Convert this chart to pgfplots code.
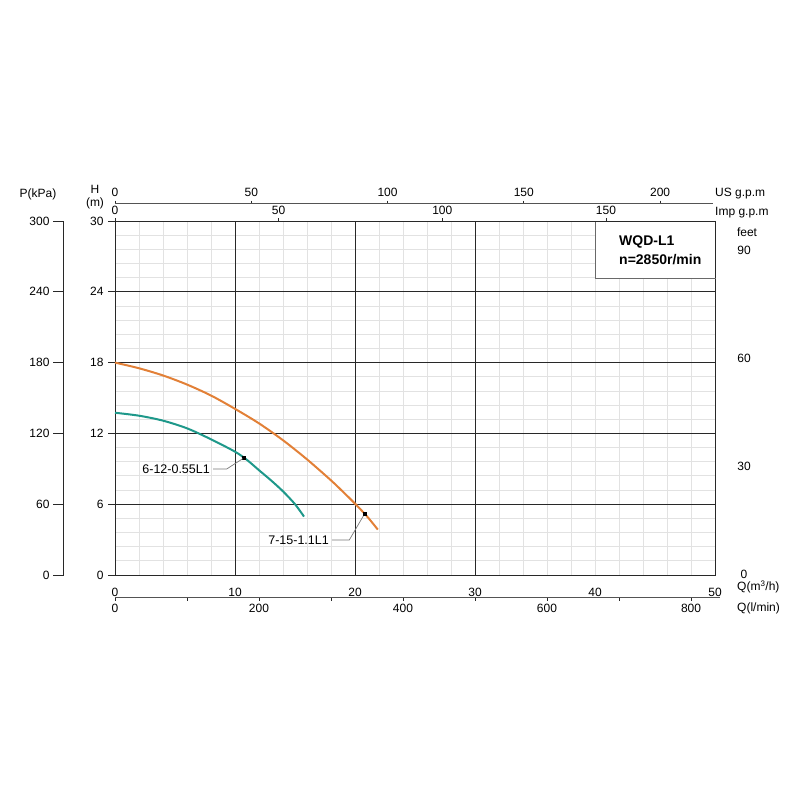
\documentclass[border=0pt]{standalone}
\usepackage{fontspec}
\setmainfont{Liberation Sans}
\usepackage{pgfplots}
\pgfplotsset{compat=1.18}
\definecolor{curveor}{RGB}{226,128,55}
\definecolor{curvete}{RGB}{30,152,138}
\definecolor{gridmaj}{RGB}{40,40,40}
\definecolor{gridmin}{RGB}{226,226,226}
\definecolor{leader}{RGB}{120,120,120}
\pgfplotsset{
  every axis/.append style={
    scale only axis,
    font=\fontsize{12}{14}\selectfont,
    /pgf/number format/assume math mode=true,
    /pgf/number format/1000 sep={},
    tick label style={font=\fontsize{12}{14}\selectfont},
  },
}
\begin{document}
\begin{tikzpicture}[x=1pt,y=1pt]
\useasboundingbox (0,0) rectangle (800,800);

% ---------- minor grid (drawn first) ----------
\begin{axis}[
  at={(115pt,225pt)}, anchor=south west,
  width=600pt, height=354pt,
  xmin=0, xmax=50, ymin=0, ymax=30,
  xtick={2,4,6,8,12,14,16,18,22,24,26,28,32,34,36,38,40,42,44,46,48},
  ytick={1.2,2.4,3.6,4.8,7.2,8.4,9.6,10.8,13.2,14.4,15.6,16.8,19.2,20.4,21.6,22.8,25.2,26.4,27.6,28.8},
  xticklabels={}, yticklabels={},
  grid=major,
  major grid style={gridmin, line width=0.8pt},
  major tick length=0pt,
  axis line style={draw=none},
]
\end{axis}

% ---------- main axis ----------
\begin{axis}[
  at={(115pt,225pt)}, anchor=south west,
  width=600pt, height=354pt,
  xmin=0, xmax=50, ymin=0, ymax=30,
  xtick={0,10,20,30}, extra x ticks={40,50},
  extra x tick style={grid=none},
  ytick={0,6,12,18,24,30},
  grid=major,
  major grid style={gridmaj, line width=0.8pt},
  axis line style={gridmaj, line width=0.8pt},
  xtick pos=bottom, ytick pos=left,
  tick align=outside,
  x tick style={draw=none},
  y tick style={gridmaj, line width=0.8pt},
  major tick length=7pt,
  xticklabel style={yshift=-3pt},
  yticklabel style={xshift=-1pt},
  clip=false,
]
\addplot[curvete, line width=2pt, smooth, tension=0.5] coordinates {
(0,13.75) (2,13.5) (4,13.08) (6,12.43) (8,11.5) (10,10.45) (11,9.75) (12,8.88) (13,8.02) (14,7.09) (15,6.0) (15.75,4.95)
};
\addplot[curveor, line width=2pt, smooth, tension=0.5] coordinates {
(0,18.0) (2,17.52) (4,16.91) (6,16.14) (8,15.21) (10,14.08) (12,12.85) (14,11.42) (16,9.8) (18,8.02) (19,7.05) (20,6.05) (21,4.97) (21.9,3.85)
};
\addplot[only marks, mark=square*, mark size=1.5pt, black] coordinates {(10.75,9.94) (20.83,5.16)};
\end{axis}

% ---------- P(kPa) axis ----------
\begin{axis}[
  at={(63.5pt,225pt)}, anchor=south west,
  width=1pt, height=354pt,
  xmin=0, xmax=1, ymin=0, ymax=300,
  ytick={0,60,120,180,240,300},
  axis y line*=left, hide x axis,
  axis line style={gridmaj, line width=0.8pt},
  tick align=outside, major tick length=10.5pt,
  y tick style={gridmaj, line width=0.8pt},
]
\end{axis}

% ---------- l/min axis ----------
\begin{axis}[
  at={(115pt,202.3pt)}, anchor=south west,
  width=605pt, height=1pt,
  xmin=0, xmax=840.28, ymin=0, ymax=1,
  xtick={0,100,...,800},
  xticklabels={0,,200,,400,,600,,800},
  axis x line*=bottom, hide y axis,
  axis line style={gridmaj!80, line width=0.8pt},
  tick align=outside, major tick length=3pt,
  x tick style={gridmaj, line width=0.8pt},
]
\end{axis}

% ---------- US gpm axis ----------
\begin{axis}[
  at={(115pt,595.7pt)}, anchor=south west,
  width=598.3pt, height=1pt,
  xmin=0, xmax=219.52, ymin=0, ymax=1,
  xtick={0,50,100,150,200},
  axis x line*=top, hide y axis,
  axis line style={gridmaj!80, line width=0.8pt},
  tick align=outside, major tick length=2.7pt,
  x tick style={gridmaj, line width=0.8pt},
]
\end{axis}

% ---------- Imp gpm axis ----------
\begin{axis}[
  at={(115pt,225pt)}, anchor=south west,
  width=600pt, height=354pt,
  xmin=0, xmax=183.31, ymin=0, ymax=1,
  xtick={0,50,100,150},
  axis x line*=top, hide y axis,
  axis line style={gridmaj, line width=0.8pt},
  tick align=outside, major tick length=2.5pt,
  x tick style={gridmaj, line width=0.8pt},
]
\end{axis}

% ---------- feet axis ----------
\begin{axis}[
  at={(115pt,225pt)}, anchor=south west,
  width=600pt, height=354pt,
  xmin=0, xmax=1, ymin=0, ymax=98.425,
  ytick={0,30,60,90},
  axis y line*=right, hide x axis,
  axis line style={draw=none},
  major tick length=0pt,
  yticklabel style={anchor=center, xshift=29pt, yshift=1pt},
]
\end{axis}

% ---------- texts ----------
\node[font=\fontsize{12}{14}\selectfont] at (38,606) {P(kPa)};
\node[font=\fontsize{12}{14}\selectfont] at (95,611) {H};
\node[font=\fontsize{12}{14}\selectfont] at (95,596.7) {(m)};
\node[font=\fontsize{12}{14}\selectfont, anchor=west, inner sep=0pt] at (715,606) {US g.p.m};
\node[font=\fontsize{12}{14}\selectfont, anchor=west, inner sep=0pt] at (715,587.3) {Imp g.p.m};
\node[font=\fontsize{12}{14}\selectfont] at (747,567.7) {feet};
\node[font=\fontsize{12}{14}\selectfont, anchor=west, inner sep=0pt] at (737,212.8) {Q(m\textsuperscript{3}/h)};
\node[font=\fontsize{12}{14}\selectfont, anchor=west, inner sep=0pt] at (737,191.7) {Q(l/min)};

% legend box
\draw[gridmaj!70, line width=0.8pt, fill=white] (595,579) rectangle (715,522);
\draw[gridmaj, line width=0.8pt] (715,579) -- (715,522);
\draw[gridmaj, line width=0.8pt] (595,579) -- (715,579);
\node[font=\fontsize{14}{16}\selectfont\bfseries, anchor=west, inner sep=0pt] at (619,558.3) {WQD-L1};
\node[font=\fontsize{14}{16}\selectfont\bfseries, anchor=west, inner sep=0pt] at (619,540.7) {n=2850r/min};

% curve labels with leaders
\draw[leader, line width=0.7pt] (213,331) -- (226.7,331) -- (242.7,341.3);
\node[font=\fontsize{12.5}{14}\selectfont, anchor=east, inner sep=0pt] at (210,331) {6-12-0.55L1};
\draw[leader, line width=0.7pt] (332,260) -- (349.3,260) -- (363.3,284);
\node[font=\fontsize{12.5}{14}\selectfont, anchor=east, inner sep=0pt] at (329,260) {7-15-1.1L1};
\end{tikzpicture}
\end{document}
